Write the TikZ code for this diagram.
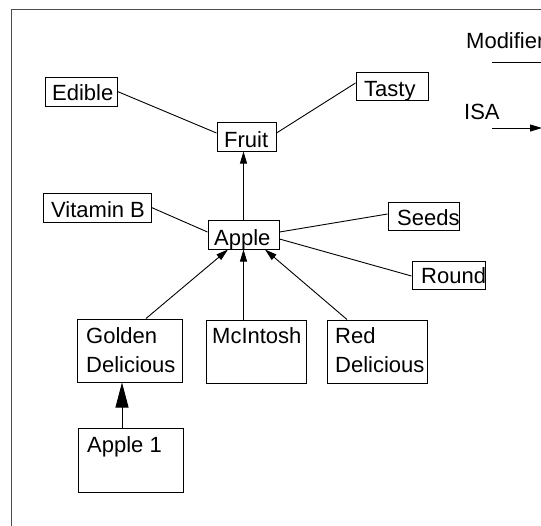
\documentclass[tikz,border=0pt]{standalone}
\usepackage{fontspec}
\setmainfont{Liberation Sans}
\usetikzlibrary{arrows.meta}

\tikzset{
  box/.style={draw=black, line width=1pt, inner sep=0pt, rectangle},
  lbl/.style={inner sep=0pt, anchor=base west, font=\fontsize{22}{27}\selectfont},
  link/.style={draw=black, line width=0.9pt},
  isa/.style={link, -{Triangle[length=12pt,width=7pt]}},
  bigisa/.style={link, -{Triangle[length=25pt,width=13pt]}},
}

\begin{document}
\begin{tikzpicture}[x=1pt,y=-1pt]
\useasboundingbox (0,0) rectangle (541,525);
\clip (0,0) rectangle (541,525);

% outer frame (runs off the right and bottom edges)
\draw[draw=black!70, line width=1.2pt] (11.5,560) -- (11.5,9.5) -- (560,9.5);

% concept boxes
\node[box, minimum width=72pt, minimum height=29pt] (edible) at (81,91.5) {};
\node[box, minimum width=72pt, minimum height=28pt] (tasty)  at (392,86) {};
\node[box, minimum width=59pt, minimum height=29pt] (fruit)  at (246.5,136.5) {};
\node[box, minimum width=108pt, minimum height=29pt] (vitb)  at (97,207.5) {};
\node[box, minimum width=71pt, minimum height=29pt] (apple)  at (243.5,234.5) {};
\node[box, minimum width=71pt, minimum height=28pt] (seeds)  at (423.5,216) {};
\node[box, minimum width=73pt, minimum height=28pt] (round)  at (448.5,275) {};
\node[box, minimum width=105pt, minimum height=63pt] (golden) at (129.5,350.5) {};
\node[box, minimum width=100pt, minimum height=63pt] (mcint)  at (256,351.5) {};
\node[box, minimum width=100pt, minimum height=63pt] (reddel) at (377,351.5) {};
\node[box, minimum width=105pt, minimum height=64pt] (appone) at (130.5,460) {};

% box texts
\node[lbl] (tEdible) at (52,100) {Edible};
\node[lbl] (tTasty)  at (364,96) {Tasty};
\node[lbl] (tFruit)  at (224,147) {Fruit};
\node[lbl] (tVitB)   at (51,217) {Vitamin B};
\node[lbl] (tApple)  at (214,245) {Apple};
\node[lbl] (tSeeds)  at (397,225) {Seeds};
\node[lbl] (tRound)  at (421,283) {Round};
\node[lbl] (tGoldA)  at (86,343) {Golden};
\node[lbl] (tGoldB)  at (86,372) {Delicious};
\node[lbl] (tMcInt)  at (212,343) {McIntosh};
\node[lbl] (tRedA)   at (335,343) {Red};
\node[lbl] (tRedB)   at (335,372) {Delicious};
\node[lbl] (tAppOne) at (87,452) {Apple 1};

% modifier links
\draw[link] (edible.east) -- ([yshift=3.5pt]fruit.west);
\draw[link] ([yshift=3pt]tasty.west) -- ([yshift=3.5pt]fruit.east);
\draw[link] (vitb.east) -- ([yshift=2.5pt]apple.west);
\draw[link] ([yshift=2.5pt]apple.east) -- ([yshift=2pt]seeds.west);
\draw[link] ([yshift=-4.5pt]apple.east) -- ([yshift=-1pt]round.west);

% isa links
\draw[isa] (apple.north) -- (fruit.south -| apple.north);
\draw[isa] ([xshift=16.5pt]golden.north) -- ([xshift=-15.5pt]apple.south);
\draw[isa] (apple.south |- mcint.north) -- (apple.south);
\draw[isa] ([xshift=-30pt]reddel.north) -- ([xshift=21.5pt]apple.south);
\coordinate (aoTop) at ([xshift=-8.5pt]appone.north);
\draw[bigisa] (aoTop) -- (golden.south -| aoTop);

% legend
\node[lbl] (tMod) at (466,48) {Modifier};
\coordinate (modA) at (492,62.5);
\coordinate (modB) at (545,62.5);
\draw[link] (modA) -- (modB);
\node[lbl] (tIsa) at (464,119) {ISA};
\coordinate (isaA) at (492,128);
\coordinate (isaB) at (542,128);
\draw[isa] (isaA) -- (isaB);
\end{tikzpicture}
\end{document}
